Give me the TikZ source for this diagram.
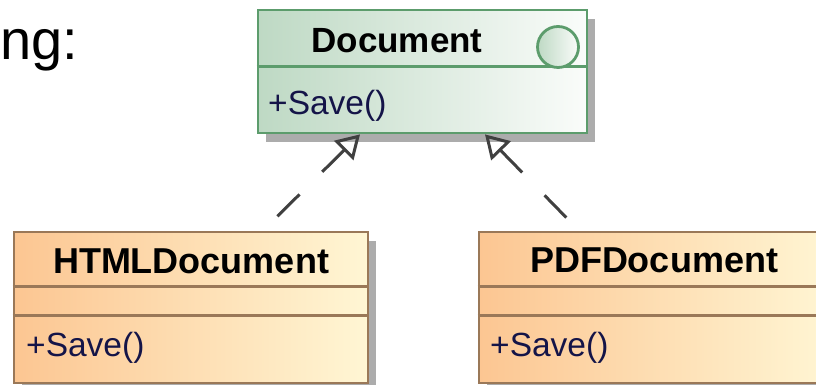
\documentclass[tikz,border=0pt]{standalone}
\usepackage{fontspec}
\setmainfont{Liberation Sans}
\usetikzlibrary{arrows.meta}
\definecolor{docA}{RGB}{190,217,196}
\definecolor{docB}{RGB}{250,252,250}
\definecolor{docline}{RGB}{92,156,108}
\definecolor{orA}{RGB}{252,198,146}
\definecolor{orB}{RGB}{255,246,212}
\definecolor{orline}{RGB}{154,120,88}
\definecolor{shadowc}{RGB}{172,172,172}
\definecolor{optext}{RGB}{20,20,72}
\definecolor{arrowc}{RGB}{64,64,64}
\tikzset{
  classbox/.style={rectangle, inner sep=0pt, line width=2.8pt,
    preaction={fill=shadowc, transform canvas={shift={(8pt,-9pt)}}}},
  docbox/.style={classbox, draw=docline, left color=docA, right color=docB},
  orbox/.style={classbox, draw=orline, left color=orA, right color=orB},
  titletext/.style={inner sep=0pt, anchor=base, font=\bfseries\fontsize{35}{42}\selectfont},
  optxt/.style={inner sep=0pt, anchor=base west, text=optext, font=\fontsize{33.5}{40}\selectfont},
  dep/.style={{Triangle[open,length=23pt,width=27pt]}-, line width=3pt, draw=arrowc,
    dash pattern=on 31pt off 32pt},
}
\begin{document}
\begin{tikzpicture}[x=1pt,y=1pt]
\useasboundingbox (0,0) rectangle (816,385);
% partial caption text
\node[inner sep=0pt, anchor=base west, font=\fontsize{56}{66}\selectfont] (cap) at (0,325) {ng:};
% Document interface
\node[docbox, minimum width=329pt, minimum height=123pt] (doc) at (422.5,313.5) {};
\draw[docline, line width=2.8pt] ([yshift=-58pt]doc.north west) -- ([yshift=-58pt]doc.north east);
\node[circle, inner sep=0pt, minimum size=41pt, draw=docline, line width=2.8pt,
      left color=docA, right color=docB] (circ) at (558,338) {};
\node[titletext] (doctitle) at (397,332) {Document};
\node[optxt] (docop) at (268,270) {+Save()};
% HTMLDocument
\node[orbox, minimum width=354pt, minimum height=151pt] (html) at (191,77.5) {};
\draw[orline, line width=2.8pt] ([yshift=-56pt]html.north west) -- ([yshift=-56pt]html.north east);
\draw[orline, line width=2.8pt] ([yshift=-85pt]html.north west) -- ([yshift=-85pt]html.north east);
\node[titletext, font=\bfseries\fontsize{36}{43}\selectfont] (htitle) at (191,111) {HTMLDocument};
\node[optxt] (hop) at (26,28) {+Save()};
% PDFDocument
\node[orbox, minimum width=354pt, minimum height=151pt] (pdf) at (656,77.5) {};
\draw[orline, line width=2.8pt] ([yshift=-56pt]pdf.north west) -- ([yshift=-56pt]pdf.north east);
\draw[orline, line width=2.8pt] ([yshift=-85pt]pdf.north west) -- ([yshift=-85pt]pdf.north east);
\node[titletext, font=\bfseries\fontsize{36}{43}\selectfont] (ptitle) at (654,112) {PDFDocument};
\node[optxt] (pop) at (490,28) {+Save()};
% realization arrows
\draw[dep] ([xshift=-62.5pt]doc.south) -- ([xshift=72pt]html.north);
\draw[dep] ([xshift=62.5pt]doc.south) -- ([xshift=-77pt]pdf.north);
\end{tikzpicture}
\end{document}
